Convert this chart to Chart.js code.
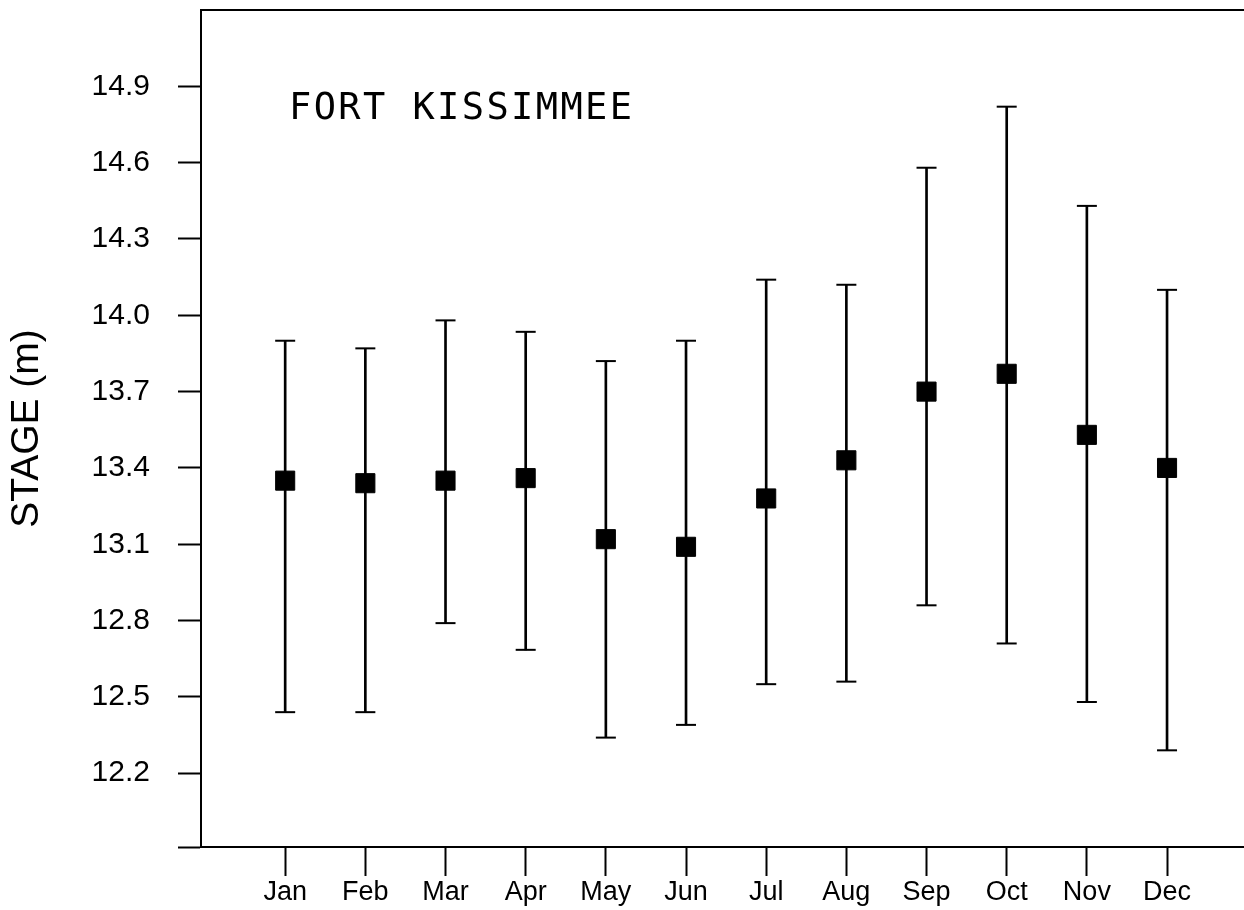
<!DOCTYPE html>
<html>
<head>
<meta charset="utf-8">
<title>Fort Kissimmee stage</title>
<script src="https://cdn.jsdelivr.net/npm/chart.js@4"></script>
<style>
  html, body { margin: 0; padding: 0; background: #fff; overflow: hidden; }
  #wrap { width: 1244px; height: 910px; }
  #stageChart { display: block; }
</style>
</head>
<body>
<div id="wrap"><canvas id="stageChart" width="1244" height="910"></canvas></div>
<script>
// --- Data ---
const months = ['Jan', 'Feb', 'Mar', 'Apr', 'May', 'Jun', 'Jul', 'Aug', 'Sep', 'Oct', 'Nov', 'Dec'];
const stageMean = [13.35, 13.34, 13.35, 13.36, 13.12, 13.09, 13.28, 13.43, 13.70, 13.77, 13.53, 13.40];
const stageHigh = [13.90, 13.87, 13.98, 13.935, 13.82, 13.90, 14.14, 14.12, 14.58, 14.82, 14.43, 14.10];
const stageLow = [12.44, 12.44, 12.79, 12.685, 12.34, 12.39, 12.55, 12.56, 12.86, 12.71, 12.48, 12.29];
const stageTicks = [12.2, 12.5, 12.8, 13.1, 13.4, 13.7, 14.0, 14.3, 14.6, 14.9];
const stationName = 'FORT KISSIMMEE';

const Y_MIN = 11.91, Y_MAX = 15.2;
const X_MIN = -0.05, X_MAX = 12.96;

const monthIndex = months.map((m, i) => i + 1);
const pts = (vals) => vals.map((v, i) => ({ x: monthIndex[i], y: v }));

// keep the frame tight to the canvas: drop the label overhang padding
const noPad = (scale) => {
    scale.paddingTop = 0;
    scale.paddingBottom = 0;
    scale.paddingLeft = 0;
    scale.paddingRight = 0;
};

// station name written inside the plot frame
const stationLabel = {
    id: 'stationLabel',
    afterDraw(chart) {
        const { ctx, chartArea } = chart;
        ctx.save();
        ctx.font = '37px "DejaVu Sans Mono"';
        ctx.letterSpacing = '2.4px';
        ctx.fillStyle = '#000';
        ctx.textBaseline = 'alphabetic';
        ctx.fillText(stationName, chartArea.left + 88, chartArea.top + 109);
        ctx.restore();
    }
};

const ctx = document.getElementById('stageChart').getContext('2d');
new Chart(ctx, {
    type: 'scatter',
    data: {
        datasets: [
            {
                label: 'Mean',
                data: pts(stageMean),
                pointStyle: 'rect',
                pointRadius: 13.5,
                backgroundColor: '#000',
                borderColor: '#000',
                borderWidth: 1
            },
            {
                label: 'Max',
                data: pts(stageHigh),
                pointStyle: 'line',
                pointRadius: 10,
                borderColor: '#000',
                borderWidth: 2
            },
            {
                label: 'Min',
                data: pts(stageLow),
                pointStyle: 'line',
                pointRadius: 10,
                borderColor: '#000',
                borderWidth: 2
            },
            {
                type: 'bar',
                label: 'Range',
                data: monthIndex.map((x, i) => ({ x, y: [stageLow[i], stageHigh[i]] })),
                backgroundColor: '#000',
                borderWidth: 0,
                barThickness: 2,
                grouped: false
            }
        ]
    },
    options: {
        responsive: false,
        animation: false,
        layout: {
            autoPadding: false,
            padding: { top: 10, left: 0, right: 0, bottom: 0 }
        },
        plugins: {
            legend: { display: false },
            tooltip: { enabled: false }
        },
        scales: {
            x: {
                type: 'linear',
                position: 'bottom',
                offset: false,
                min: X_MIN,
                max: X_MAX,
                afterBuildTicks: (scale) => { scale.ticks = monthIndex.map(v => ({ value: v })); },
                afterFit: (scale) => { scale.height = 63; noPad(scale); },
                ticks: {
                    autoSkip: false,
                    maxRotation: 0,
                    padding: 0,
                    color: '#000',
                    font: { family: '"Liberation Sans"', size: 27 },
                    callback: (value) => months[value - 1] || ''
                },
                grid: {
                    offset: false,
                    drawOnChartArea: false,
                    tickLength: 29,
                    tickWidth: 2,
                    color: '#000'
                },
                border: { display: true, color: '#000', width: 2 }
            },
            xTop: {
                type: 'linear',
                position: 'top',
                offset: false,
                min: X_MIN,
                max: X_MAX,
                afterFit: (scale) => { scale.height = 0; noPad(scale); },
                ticks: { display: false },
                grid: { display: false, offset: false },
                border: { display: true, color: '#000', width: 2 }
            },
            y: {
                type: 'linear',
                min: Y_MIN,
                max: Y_MAX,
                afterBuildTicks: (scale) => {
                    scale.ticks = [{ value: Y_MIN }].concat(stageTicks.map(v => ({ value: v })));
                },
                afterFit: (scale) => { scale.width = 201; noPad(scale); },
                ticks: {
                    autoSkip: false,
                    padding: 28,
                    color: '#000',
                    font: { family: '"Liberation Sans"', size: 30 },
                    callback: (value) => stageTicks.includes(value) ? value.toFixed(1) : ''
                },
                grid: {
                    drawOnChartArea: false,
                    tickLength: 23,
                    tickWidth: 2,
                    color: '#000'
                },
                border: { display: true, color: '#000', width: 2 },
                title: {
                    display: true,
                    text: 'STAGE (m)',
                    color: '#000',
                    font: { family: '"Liberation Sans"', size: 39 },
                    padding: { top: 4, bottom: 0 }
                }
            }
        }
    },
    plugins: [stationLabel]
});
</script>
</body>
</html>
